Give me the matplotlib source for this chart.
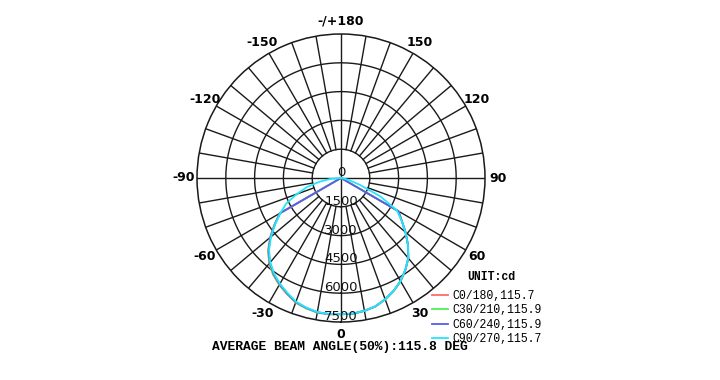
import numpy as np
import matplotlib
matplotlib.use("Agg")
import matplotlib.pyplot as plt

# ---------------- data ----------------
angles = np.arange(-90, 91, 5)  # gamma angles (deg), 0 = nadir
c0 = [0, 0, 0, 0, 0, 0, 3680, 4240, 4830, 5380, 5810, 6160, 6430, 6670, 6910, 7030, 7120, 7130,
      7100,
      7100, 7030, 6930, 6730, 6490, 6210, 5850, 5460, 4940, 4390, 3860, 3460, 0, 0, 0, 0, 0, 0]
c30 = [0, 0, 0, 0, 0, 0, 3670, 4220, 4810, 5350, 5790, 6140, 6410, 6650, 6890, 7020, 7110, 7120,
       7100,
       7100, 7030, 6930, 6730, 6490, 6210, 5850, 5460, 4940, 4390, 3860, 3460, 0, 0, 0, 0, 0, 0]
c60 = [0, 0, 0, 0, 0, 0, 3660, 4200, 4790, 5330, 5760, 6110, 6390, 6630, 6870, 7000, 7100, 7110,
       7090,
       7090, 7020, 6920, 6720, 6480, 6200, 5840, 5450, 4930, 4380, 3850, 3450, 0, 0, 0, 0, 0, 0]
c90 = [0, 550, 1150, 1850, 2450, 3150, 3640, 4180, 4760, 5300, 5730, 6080, 6360, 6600, 6850, 6990, 7090, 7110,
       7090,
       7090, 7020, 6920, 6720, 6480, 6200, 5840, 5450, 4930, 4380, 3850, 3350, 2250, 1050, 450, 150, 30, 0]
series_labels = ["C0/180,115.7", "C30/210,115.9", "C60/240,115.9", "C90/270,115.7"]
series_colors = ["#ff6a6a", "#4ef04e", "#5a5af0", "#22e6ff"]
ring_values = [1500, 3000, 4500, 6000, 7500]
angle_ticks = [0, 30, 60, 90, 120, 150, 180, -150, -120, -90, -60, -30]
angle_labels = ["0", "30", "60", "90", "120", "150", "-/+180", "-150", "-120", "-90", "-60", "-30"]
unit_text = "UNIT:cd"
footer = "AVERAGE BEAM ANGLE(50%):115.8 DEG"

# ---------------- figure ----------------
W, H = 720, 380
fig = plt.figure(figsize=(W / 100, H / 100), dpi=100)
cx, cy, R = 341, 178, 144
ax = fig.add_axes([(cx - R) / W, (H - cy - R) / H, 2 * R / W, 2 * R / H], projection="polar")
ax.set_theta_zero_location("S")
ax.set_theta_direction(1)
rmax = ring_values[-1]
ax.set_ylim(0, rmax)
ax.set_xticks([])
ax.set_yticks([])
ax.grid(False)
ax.spines["polar"].set_linewidth(1.1)
ax.spines["polar"].set_color("#1a1a1a")

gc = "#1a1a1a"
glw = 1.0
# rings
tt = np.linspace(0, 2 * np.pi, 361)
for rv in ring_values[:-1]:
    ax.plot(tt, np.full_like(tt, rv), color=gc, lw=glw, zorder=1)
# spokes
for a in range(0, 360, 10):
    th = np.deg2rad(a)
    if a % 90 == 0:
        ax.plot([th, th], [0, rmax], color=gc, lw=glw, zorder=1)
    else:
        ax.plot([th, th], [ring_values[0], rmax], color=gc, lw=glw, zorder=1)

# curves
th = np.deg2rad(angles)
lines = []
for vals, lab, col in zip([c0, c30, c60, c90], series_labels, series_colors):
    ln, = ax.plot(th, vals, color=col, lw=1.3, label=lab, zorder=3)
    lines.append(ln)

# angle labels
rl = rmax * 157 / 144
for a, lab in zip(angle_ticks, angle_labels):
    ax.text(np.deg2rad(a), rl, lab, ha="center", va="center", fontsize=9,
            fontweight="bold", family="DejaVu Sans", clip_on=False)

# ring labels
for rv in [0] + ring_values:
    ax.annotate(str(rv), xy=(0, rv), xytext=(0, 4), textcoords="offset points",
                ha="center", va="center", fontsize=9.5, family="DejaVu Sans",
                color="#111111", zorder=4, annotation_clip=False)

# legend
leg = fig.legend(handles=lines, labels=series_labels, loc="upper left",
                 bbox_to_anchor=(432 / W, 1 - 290 / H), frameon=False,
                 prop={"family": "Liberation Mono", "size": 8.3},
                 handlelength=1.4, handletextpad=0.35, labelspacing=0.2,
                 borderpad=0, borderaxespad=0)
fig.text(491 / W, 1 - 277 / H, unit_text, ha="center", va="center",
         family="Liberation Mono", fontweight="bold", fontsize=8.3)

fig.text(340 / W, 1 - 347 / H, footer, ha="center", va="center",
         family="Liberation Mono", fontweight="bold", fontsize=9.4)

fig.savefig("out.png", dpi=100)
